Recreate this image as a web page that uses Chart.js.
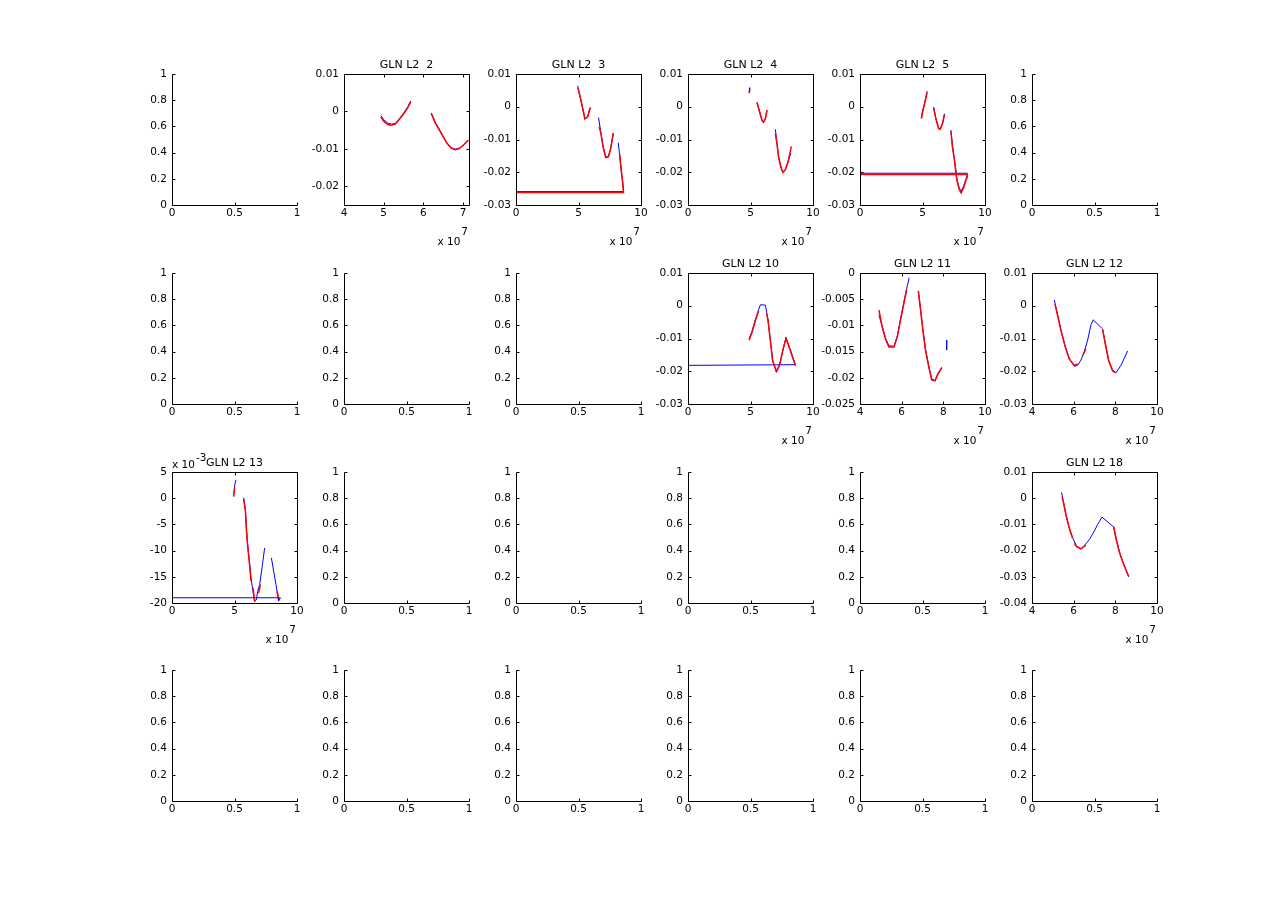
<!DOCTYPE html>
<html>
<head>
<meta charset="utf-8">
<script src="https://cdn.jsdelivr.net/npm/chart.js@4.4.0/dist/chart.umd.min.js"></script>
<style>
  body { margin: 0; background: #fff; }
  #fig { position: relative; width: 1280px; height: 908px; background: #fff; }
  #fig canvas { position: absolute; }
</style>
</head>
<body>
<div id="fig"></div>
<script>
// x values are in units of 1e7 (as on the axes), GLN L2 13 y values in units of 1e-3

// tick labels
const ticksUnitX = [0, 0.5, 1]
const ticksUnitY = [0, 0.2, 0.4, 0.6, 0.8, 1]
const ticksX0to10 = [0, 5, 10]
const ticksX4to10 = [4, 6, 8, 10]
const ticksX4to7 = [4, 5, 6, 7]
const ticksY2 = [-0.02, -0.01, 0, 0.01]
const ticksY30 = [-0.03, -0.02, -0.01, 0, 0.01]
const ticksY11 = [-0.025, -0.02, -0.015, -0.01, -0.005, 0]
const ticksY13 = [-20, -15, -10, -5, 0, 5]
const ticksY18 = [-0.04, -0.03, -0.02, -0.01, 0, 0.01]

// GLN L2 2
const gln2X = [4.93, 5.0, 5.1, 5.2, 5.3, 5.4, 5.5, 5.6, 5.68, 5.9, 6.2, 6.3, 6.4, 6.5, 6.6, 6.7, 6.8, 6.9, 7.0, 7.13]
const gln2BlueY = [-0.0011, -0.0022, -0.0031, -0.0034, -0.0032, -0.0019, -0.0005, 0.0011, 0.0028, null, -0.0004, -0.0029, -0.0047, -0.0067, -0.0085, -0.0097, -0.0101, -0.0099, -0.0091, -0.0076]
const gln2RedY = [-0.0015, -0.0026, -0.0035, -0.0037, -0.0033, -0.0020, -0.0007, 0.0009, 0.0025, null, -0.0006, -0.0031, -0.0049, -0.0068, -0.0086, -0.0098, -0.0102, -0.0099, -0.0091, -0.0077]

// GLN L2 3
const gln3BlueX = [4.93, 5.07, 5.28, 5.51, 5.73, 5.94, 6.3, 6.6, 6.78, 6.97, 7.18, 7.39, 7.57, 7.78, 8.0, 8.18, 8.28, 8.42, 8.55, 8.6, 0]
const gln3BlueY = [0.0064, 0.0041, 0.0005, -0.0036, -0.003, -0.0002, null, -0.0033, -0.0077, -0.0122, -0.0153, -0.0151, -0.0128, -0.0082, null, -0.0110, -0.0143, -0.0194, -0.0235, -0.0259, -0.0259]
const gln3RedX = [4.95, 5.07, 5.28, 5.51, 5.73, 5.94, 6.3, 6.65, 6.78, 6.97, 7.18, 7.39, 7.57, 7.78, 8.0, 8.28, 8.42, 8.55, 8.6, 0]
const gln3RedY = [0.0058, 0.0040, 0.0004, -0.0037, -0.0031, -0.0003, null, -0.0061, -0.0079, -0.0123, -0.0155, -0.0153, -0.0129, -0.0080, null, -0.0142, -0.0195, -0.0237, -0.0262, -0.0262]

// GLN L2 4
const gln4BlueX = [4.93, 4.93, 5.2, 5.52, 5.73, 5.92, 6.05, 6.19, 6.32, 6.6, 6.99, 7.12, 7.25, 7.44, 7.6, 7.79, 8.0, 8.22]
const gln4BlueY = [0.0058, 0.0047, null, 0.0014, -0.0015, -0.0041, -0.0046, -0.0036, -0.0011, null, -0.0069, -0.0112, -0.0153, -0.0184, -0.0200, -0.0191, -0.0168, -0.0142]
const gln4RedX = [4.90, 4.90, 5.2, 5.52, 5.73, 5.92, 6.05, 6.19, 6.32, 6.6, 6.99, 7.12, 7.25, 7.44, 7.6, 7.79, 8.0, 8.27]
const gln4RedY = [0.0050, 0.0041, null, 0.0012, -0.0016, -0.0042, -0.0047, -0.0037, -0.0010, null, -0.0082, -0.0114, -0.0155, -0.0186, -0.0201, -0.0192, -0.0169, -0.0121]

// GLN L2 5
const gln5X = [4.91, 5.01, 5.17, 5.37, 5.6, 5.89, 6.07, 6.29, 6.42, 6.6, 6.76, 7.0, 7.27, 7.4, 7.56, 7.75, 7.93, 8.09, 8.28, 8.46, 8.58, 8.58, 0]
const gln5BlueY = [-0.0033, -0.0013, 0.0012, 0.0048, null, -0.0001, -0.0035, -0.0065, -0.0067, -0.0050, -0.0021, null, -0.0071, -0.0121, -0.0161, -0.0220, -0.0247, -0.0258, -0.0243, -0.0222, -0.0210, -0.0203, -0.0203]
const gln5RedY = [-0.0036, -0.0016, 0.0009, 0.0043, null, -0.0003, -0.0037, -0.0067, -0.0069, -0.0052, -0.0024, null, -0.0075, -0.0124, -0.0165, -0.0225, -0.0252, -0.0263, -0.0248, -0.0226, -0.0215, -0.0207, -0.0207]

// GLN L2 10
const gln10BlueX = [4.9, 5.12, 5.39, 5.65, 5.79, 6.19, 6.4, 6.59, 6.77, 7.07, 7.33, 7.6, 7.84, 8.19, 8.59, 0]
const gln10BlueY = [-0.0100, -0.0078, -0.0042, -0.0012, 0.0003, 0.0002, -0.0043, -0.0105, -0.0166, -0.0203, -0.0182, -0.0135, -0.0097, -0.0135, -0.0180, -0.0182]
const gln10RedX = [4.88, 5.12, 5.39, 5.65, 5.9, 6.3, 6.4, 6.59, 6.77, 7.07, 7.33, 7.6, 7.84, 8.19, 8.59]
const gln10RedY = [-0.0105, -0.0082, -0.0045, -0.0016, null, -0.0025, -0.0045, -0.0107, -0.0168, -0.0200, -0.0180, -0.0133, -0.0100, -0.0137, -0.0183]

// GLN L2 11
const gln11BlueX = [4.91, 5.07, 5.23, 5.39, 5.63, 5.79, 5.95, 6.11, 6.24, 6.36, 6.6, 6.8, 6.91, 7.02, 7.15, 7.31, 7.44, 7.6, 7.73, 7.92, 8.05, 8.16, 8.16]
const gln11BlueY = [-0.0080, -0.0102, -0.0125, -0.0139, -0.0140, -0.0120, -0.0087, -0.0055, -0.0030, -0.0009, null, -0.0036, -0.0070, -0.0108, -0.0147, -0.0179, -0.0202, -0.0205, -0.0193, -0.0180, null, -0.0128, -0.0147]
const gln11RedX = [4.91, 5.07, 5.23, 5.39, 5.63, 5.79, 5.95, 6.11, 6.24, 6.5, 6.8, 6.91, 7.02, 7.15, 7.31, 7.44, 7.6, 7.73, 7.92]
const gln11RedY = [-0.0071, -0.0104, -0.0127, -0.0141, -0.0141, -0.0122, -0.0089, -0.0057, -0.0032, null, -0.0034, -0.0071, -0.0110, -0.0149, -0.0181, -0.0204, -0.0206, -0.0194, -0.0181]

// GLN L2 12
const gln12BlueX = [5.07, 5.23, 5.39, 5.6, 5.79, 6.03, 6.19, 6.35, 6.51, 6.67, 6.83, 6.94, 7.39, 7.52, 7.68, 7.87, 8.03, 8.27, 8.59]
const gln12BlueY = [0.0018, -0.0028, -0.0074, -0.0125, -0.0161, -0.0185, -0.0182, -0.0166, -0.0140, -0.0105, -0.0058, -0.0043, -0.0071, -0.0115, -0.0166, -0.0197, -0.0205, -0.0182, -0.0138]
const gln12RedX = [5.1, 5.23, 5.39, 5.6, 5.79, 6.03, 6.19, 6.3, 6.43, 6.59, 7.0, 7.39, 7.52, 7.68, 7.87, 8.03]
const gln12RedY = [0.0005, -0.0030, -0.0076, -0.0127, -0.0163, -0.0182, -0.0178, null, -0.0152, -0.0132, null, -0.0073, -0.0117, -0.0168, -0.0199, -0.0205]

// GLN L2 13 (y in 1e-3)
const gln13BlueX = [4.95, 5.03, 5.12, 5.4, 5.73, 5.87, 5.95, 6.05, 6.19, 6.32, 6.48, 6.59, 6.75, 6.85, 7.01, 7.2, 7.41, 7.7, 7.95, 8.13, 8.32, 8.48, 8.53, 8.67, 0]
const gln13BlueY = [0.8, 2.7, 3.5, null, 0.1, -2.1, -5.6, -8.8, -12.0, -15.2, -17.8, -19.7, -19.4, -17.8, -16.5, -13.3, -9.5, null, -11.4, -13.9, -16.5, -19.0, -19.6, -19.0, -19.0]
const gln13RedX = [4.93, 5.01, 5.4, 5.73, 5.87, 5.95, 6.05, 6.19, 6.32, 6.4, 6.48, 6.59, 6.67, 6.8, 6.93, 7.07, 7.5, 8.4, 8.53]
const gln13RedY = [0.3, 2.0, null, -0.2, -2.4, -5.9, -9.1, -12.3, -15.8, null, -17.1, -19.2, -19.7, null, -18.1, -16.5, null, -17.8, -19.0]

// GLN L2 18
const gln18BlueX = [5.42, 5.5, 5.63, 5.79, 5.95, 6.14, 6.35, 6.56, 6.75, 6.99, 7.15, 7.36, 7.92, 8.03, 8.19, 8.35, 8.51, 8.64]
const gln18BlueY = [0.0022, -0.0010, -0.0062, -0.0113, -0.0151, -0.0183, -0.0194, -0.0177, -0.0158, -0.0126, -0.0100, -0.0072, -0.0110, -0.0151, -0.0203, -0.0241, -0.0273, -0.0301]
const gln18RedX = [5.44, 5.5, 5.63, 5.79, 5.95, 6.0, 6.03, 6.14, 6.35, 6.59, 7.0, 7.92, 8.03, 8.19, 8.35, 8.51, 8.64]
const gln18RedY = [0.0005, -0.0012, -0.0064, -0.0115, -0.0153, null, -0.0172, -0.0185, -0.0193, -0.0178, null, -0.0108, -0.0153, -0.0205, -0.0243, -0.0275, -0.0298]


const plots = {
    2: { title: 'GLN L2  2', x: [4, 7.15, ticksX4to7], y: [-0.025, 0.01, ticksY2], blue: [gln2X, gln2BlueY], red: [gln2X, gln2RedY] },
    3: { title: 'GLN L2  3', x: [0, 10, ticksX0to10], y: [-0.03, 0.01, ticksY30], blue: [gln3BlueX, gln3BlueY], red: [gln3RedX, gln3RedY] },
    4: { title: 'GLN L2  4', x: [0, 10, ticksX0to10], y: [-0.03, 0.01, ticksY30], blue: [gln4BlueX, gln4BlueY], red: [gln4RedX, gln4RedY] },
    5: { title: 'GLN L2  5', x: [0, 10, ticksX0to10], y: [-0.03, 0.01, ticksY30], blue: [gln5X, gln5BlueY], red: [gln5X, gln5RedY] },
    10: { title: 'GLN L2 10', x: [0, 10, ticksX0to10], y: [-0.03, 0.01, ticksY30], blue: [gln10BlueX, gln10BlueY], red: [gln10RedX, gln10RedY] },
    11: { title: 'GLN L2 11', x: [4, 10, ticksX4to10], y: [-0.025, 0, ticksY11], blue: [gln11BlueX, gln11BlueY], red: [gln11RedX, gln11RedY] },
    12: { title: 'GLN L2 12', x: [4, 10, ticksX4to10], y: [-0.03, 0.01, ticksY30], blue: [gln12BlueX, gln12BlueY], red: [gln12RedX, gln12RedY] },
    13: { title: 'GLN L2 13', x: [0, 10, ticksX0to10], y: [-20, 5, ticksY13], yExp: '-3', blue: [gln13BlueX, gln13BlueY], red: [gln13RedX, gln13RedY] },
    18: { title: 'GLN L2 18', x: [4, 10, ticksX4to10], y: [-0.04, 0.01, ticksY18], blue: [gln18BlueX, gln18BlueY], red: [gln18RedX, gln18RedY] }
}

const colLeft = [172, 344, 516, 688, 860, 1032]
const rowTop = [74, 273, 472, 670]
const AX_W = 125, AX_H = 131
const PAD_L = 50, PAD_T = 25, PAD_R = 20, PAD_B = 48
const FONT = '10.5px "DejaVu Sans"'
const TITLE_FONT = '11px "DejaVu Sans"'

function fmt(v) {
    return String(+Number(v).toFixed(6))
}

function points(xs, ys) {
    return xs.map((x, i) => ({ x: x, y: ys[i] }))
}

// MATLAB style axes: inward ticks, optional box, title and exponent labels
const matlabAxes = {
    id: 'matlabAxes',
    afterDraw(chart, args, o) {
        const { ctx, chartArea: a, scales } = chart
        const l = Math.round(a.left) + 0.5, r = Math.round(a.right) + 0.5
        const t = Math.round(a.top) + 0.5, b = Math.round(a.bottom) + 0.5
        const tl = 3
        ctx.save()
        ctx.strokeStyle = '#000'
        ctx.lineWidth = 1
        ctx.beginPath()
        if (o.box) {
            ctx.rect(l, t, r - l, b - t)
        } else {
            ctx.moveTo(l, t); ctx.lineTo(l, b); ctx.lineTo(r, b)
        }
        scales.x.ticks.forEach(tk => {
            const px = Math.round(scales.x.getPixelForValue(tk.value)) + 0.5
            ctx.moveTo(px, b); ctx.lineTo(px, b - tl)
            if (o.box) { ctx.moveTo(px, t); ctx.lineTo(px, t + tl) }
        })
        scales.y.ticks.forEach(tk => {
            const py = Math.round(scales.y.getPixelForValue(tk.value)) + 0.5
            ctx.moveTo(l, py); ctx.lineTo(l + tl, py)
            if (o.box) { ctx.moveTo(r, py); ctx.lineTo(r - tl, py) }
        })
        ctx.stroke()

        ctx.fillStyle = '#000'
        ctx.textBaseline = 'alphabetic'
        if (o.title) {
            ctx.font = TITLE_FONT
            ctx.textAlign = 'center'
            ctx.fillText(o.title, (a.left + a.right) / 2, a.top - 6)
        }
        ctx.font = FONT
        if (o.xExp) {
            ctx.textAlign = 'right'
            const ex = a.right - 1
            ctx.fillText(o.xExp, ex, a.bottom + 30)
            ctx.fillText('x 10', ex - ctx.measureText(o.xExp).width - 1, a.bottom + 40)
        }
        if (o.yExp) {
            ctx.textAlign = 'left'
            ctx.fillText('x 10', a.left, a.top - 4)
            ctx.fillText(o.yExp, a.left + ctx.measureText('x 10').width + 1, a.top - 11)
        }
        ctx.restore()
    }
}

function scaleOpts(min, max, tickValues, horizontal) {
    return {
        type: 'linear',
        min: min,
        max: max,
        afterBuildTicks: s => { s.ticks = tickValues.map(v => ({ value: v })) },
        afterFit: s => {
            if (horizontal) s.height = PAD_B
            else s.width = PAD_L
            s.paddingLeft = s.paddingRight = s.paddingTop = s.paddingBottom = 0
        },
        grid: { display: false, drawTicks: false },
        border: { display: false },
        ticks: {
            color: '#000',
            font: { family: 'DejaVu Sans', size: 10.5 },
            padding: horizontal ? 2 : 5,
            autoSkip: false,
            maxRotation: 0,
            minRotation: 0,
            callback: v => fmt(v)
        }
    }
}

const fig = document.getElementById('fig')

for (let i = 1; i <= 24; i++) {
    const col = (i - 1) % 6, row = Math.floor((i - 1) / 6)
    const canvas = document.createElement('canvas')
    canvas.width = PAD_L + AX_W + PAD_R
    canvas.height = PAD_T + AX_H + PAD_B
    canvas.style.left = (colLeft[col] - PAD_L) + 'px'
    canvas.style.top = (rowTop[row] - PAD_T) + 'px'
    fig.appendChild(canvas)

    const p = plots[i]
    const datasets = []
    if (p) {
        datasets.push({
            data: points(p.red[0], p.red[1]),
            borderColor: '#ff0000',
            borderWidth: 1.5,
            order: 1
        })
        datasets.push({
            data: points(p.blue[0], p.blue[1]),
            borderColor: '#0000ff',
            borderWidth: 1,
            order: 2
        })
    }

    const xs = p ? p.x : [0, 1, ticksUnitX]
    const ys = p ? p.y : [0, 1, ticksUnitY]

    new Chart(canvas, {
        type: 'line',
        data: { datasets },
        options: {
            responsive: false,
            animation: false,
            devicePixelRatio: 1,
            layout: { padding: { top: PAD_T, right: PAD_R, left: 0, bottom: 0 } },
            elements: {
                point: { radius: 0 },
                line: { tension: 0, fill: false }
            },
            spanGaps: false,
            scales: {
                x: scaleOpts(xs[0], xs[1], xs[2], true),
                y: scaleOpts(ys[0], ys[1], ys[2], false)
            },
            plugins: {
                legend: { display: false },
                tooltip: { enabled: false },
                matlabAxes: {
                    box: !!p,
                    title: p ? p.title : '',
                    xExp: p ? '7' : '',
                    yExp: p && p.yExp ? p.yExp : ''
                }
            }
        },
        plugins: [matlabAxes]
    })
}
</script>
</body>
</html>
